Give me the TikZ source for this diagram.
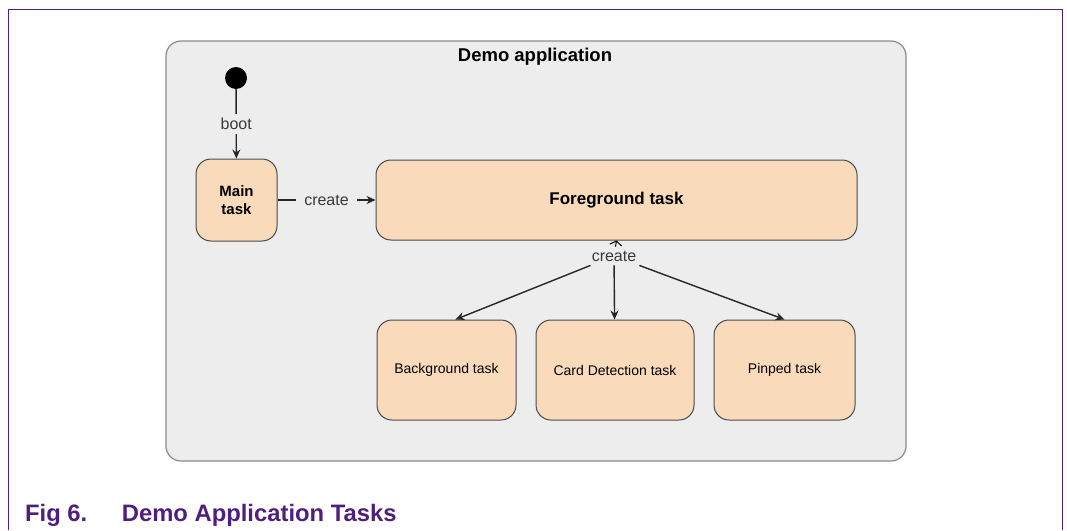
\documentclass[tikz,border=0pt]{standalone}
\usepackage{fontspec}
\setmainfont{Liberation Sans}
\usetikzlibrary{arrows.meta}
\definecolor{nxpurple}{HTML}{4E1F80}
\definecolor{appbg}{HTML}{EDEDED}
\definecolor{appline}{HTML}{8A8A8A}
\definecolor{taskbg}{HTML}{F9DABB}
\definecolor{taskline}{HTML}{4A4A4A}
\definecolor{lblgray}{HTML}{3A3A3A}

\begin{document}
\begin{tikzpicture}[x=1pt, y=-1pt,
  app/.style={rounded corners=15pt, draw=appline, fill=appbg, line width=1.2pt,
              minimum width=740pt, minimum height=420pt},
  task/.style={rounded corners=15pt, draw=taskline, fill=taskbg, line width=1pt,
               align=center, inner sep=0pt},
  small/.style={font=\fontsize{14}{16}\selectfont},
  lbl/.style={fill=appbg, inner sep=4pt, font=\fontsize{16}{18}\selectfont, text=lblgray},
  ar/.style={-{Stealth[length=9pt, width=8pt]}, line width=1.4pt, draw=black!85}]

\useasboundingbox (0,0) rectangle (1067,530);

% ---- page frame ------------------------------------------------------
\draw[nxpurple, line width=1.5pt] (8.3,530) -- (8.3,9.3) -- (1062.3,9.3) -- (1062.3,530);

% ---- application -----------------------------------------------------
\node[app] (app) at (536,251) {};
\node[font=\bfseries\fontsize{18.5}{20}\selectfont] (title) at (535,57) {Demo application};

\node[circle, fill=black, minimum size=22pt, inner sep=0pt] (init) at (236,78) {};
\node[task, minimum width=81pt, minimum height=82pt,
      font=\bfseries\fontsize{15}{18}\selectfont] (main) at (236.5,200) {Main\\task};
\node[task, minimum width=481pt, minimum height=80pt,
      font=\bfseries\fontsize{17}{19}\selectfont] (fg) at (616.5,200) {Foreground task};

\draw[ar] (init) -- node[lbl] (boot) {boot} (main);
\draw[ar] (main) -- node[lbl, inner xsep=8pt] (crtmain) {create} (fg);

% ---- created tasks ---------------------------------------------------
\node[task, small, minimum width=139pt, minimum height=100pt] (bg) at (446.5,370) {Background task};
\node[task, small, minimum width=158pt, minimum height=100pt] (cd) at (615,370) {Card Detection task};
\node[task, small, minimum width=141pt, minimum height=100pt] (pp) at (784.5,370) {Pinped task};

\node[lbl] (crt) at (614,256) {create};
\draw[-{Straight Barb[length=4pt, width=12pt]}, line width=1pt] (crt) -- (fg.south);
\draw[ar] (crt) -- (bg.80);
\draw[ar] (crt) -- (cd);
\draw[ar] (crt) -- (pp.north);

% ---- caption ---------------------------------------------------------
\node[anchor=base west, text=nxpurple, font=\bfseries\fontsize{23.8}{26}\selectfont,
      inner sep=0pt] (fignum) at (25,521.7) {Fig 6.};
\node[anchor=base west, text=nxpurple, font=\bfseries\fontsize{23.8}{26}\selectfont,
      inner sep=0pt] (figtitle) at (121.7,521.7) {Demo Application Tasks};
\end{tikzpicture}
\end{document}
